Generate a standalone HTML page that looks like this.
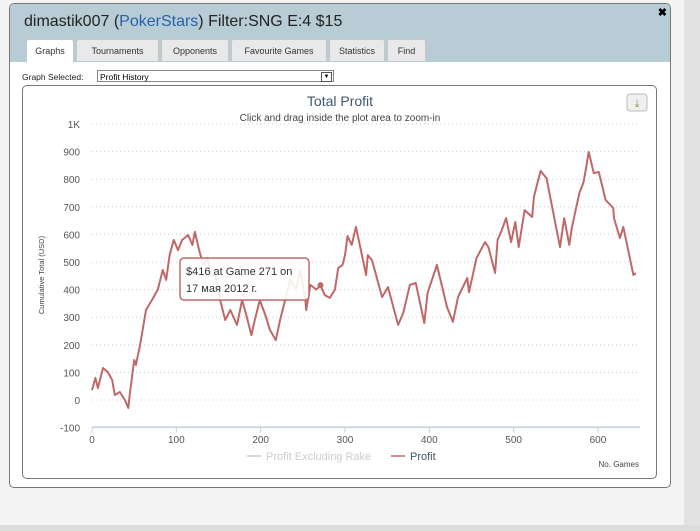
<!DOCTYPE html>
<html><head><meta charset="utf-8"><style>
body{margin:0;width:700px;height:531px;background:#f4f4f4;font-family:"Liberation Sans",sans-serif;position:relative;overflow:hidden}
.strip{position:absolute;left:684px;top:0;width:16px;height:531px;background:#e2e2e2}
.bottomstrip{position:absolute;left:0;top:525px;width:700px;height:6px;background:#dcdcdc}
.dlg{position:absolute;left:9px;top:3px;width:660px;height:483px;background:#fff;border:1px solid #777;border-radius:5px;overflow:hidden}
.hdr{position:absolute;left:0;top:0;width:660px;height:58px;background:#b7ccd5}
.title{position:absolute;left:14px;top:9px;font-size:16px;color:#222}
.title span{color:#2a62a8}
.close{position:absolute;right:3px;top:2px;font-size:11px;font-weight:bold}
.tabs{position:absolute;left:16px;top:35px}
.tab{position:absolute;top:0;height:21px;background:#e9e9e9;border:1px solid #c8c8c8;border-bottom:none;border-radius:3px 3px 0 0;font-size:9px;color:#333;line-height:22px;text-align:center}
.tab.act{background:#fff;height:23px}
.sel-lbl{position:absolute;left:12px;top:68px;font-size:8.5px;color:#222}
.sel{position:absolute;left:87px;top:66px;width:235px;height:12px;border:1px solid #888;font-size:8.5px;line-height:12px;padding-left:2px;box-sizing:border-box;width:237px}
.sel i{position:absolute;right:1px;top:1px;width:9px;height:8px;border:1px solid #555;font-style:normal;font-size:6px;text-align:center;line-height:8px}
.box{position:absolute;left:12px;top:81px;width:633px;height:392px;border:1px solid #777;border-radius:5px}
</style></head><body>
<div class="strip"></div>
<div class="bottomstrip"></div>
<div class="dlg">
 <div class="hdr">
  <div class="title">dimastik007 (<span>PokerStars</span>) Filter:SNG E:4 $15</div>
  <div class="close">✖</div>
  <div class="tabs">
   <div class="tab act" style="left:0;width:46px">Graphs</div>
   <div class="tab" style="left:50px;width:81px">Tournaments</div>
   <div class="tab" style="left:135px;width:66px">Opponents</div>
   <div class="tab" style="left:205px;width:94px">Favourite Games</div>
   <div class="tab" style="left:303px;width:54px">Statistics</div>
   <div class="tab" style="left:361px;width:37px">Find</div>
  </div>
 </div>
 <div class="sel-lbl">Graph Selected:</div>
 <div class="sel">Profit History<i>▼</i></div>
 <div class="box"></div>
</div>
<svg id="chart" width="700" height="531" style="position:absolute;left:0;top:0" font-family="Liberation Sans, sans-serif"></svg>
<script>
const games=[0,4,7,13,19,24,27,33,39,43,45,50,52,57,64,71,78,84,88,92,97,102,107,114,119,122,127,132,137,141,146,152,158,164,172,178,183,189,193,199,206,211,218,223,229,235,242,247,253,254,259,266,271,276,282,288,292,297,300,303,308,313,325,327,332,344,351,363,369,377,384,394,398,409,421,428,434,445,447,456,466,470,478,481,486,491,497,502,506,513,522,524,532,536,539,555,560,566,569,574,578,583,586,589,595,601,609,618,619,626,630,642,645];
const profit=[36,80,43,116,100,72,18,29,0,-29,25,145,127,200,326,362,400,471,435,525,580,543,580,598,562,609,543,489,514,453,453,362,290,326,272,362,308,235,290,362,304,254,217,290,362,435,400,471,362,326,417,400,416,380,370,400,478,489,525,594,562,627,453,525,507,373,409,272,315,417,424,279,388,489,337,283,373,442,391,514,572,554,460,580,616,659,572,645,554,688,663,736,830,815,804,554,659,562,623,696,750,790,844,899,822,826,725,696,659,587,627,453,460];
const yTicks=[-100,0,100,200,300,400,500,600,700,800,900,1000];
const yTickLabels=["-100","0","100","200","300","400","500","600","700","800","900","1K"];
const xTicks=[0,100,200,300,400,500,600];
const NS="http://www.w3.org/2000/svg";
const svg=document.getElementById('chart');
const X=g=>92+g*0.8433;
const Y=v=>400-v*0.276;
function mk(t,a,txt){const e=document.createElementNS(NS,t);for(const k in a)e.setAttribute(k,a[k]);if(txt!==undefined)e.textContent=txt;svg.appendChild(e);return e;}
let e;
e=mk('text',{x:340,y:106,'text-anchor':'middle','font-size':14,fill:'#3e576f'},'Total Profit');


e=mk('text',{x:340,y:121,'text-anchor':'middle','font-size':10,fill:'#444'},'Click and drag inside the plot area to zoom-in');


e=mk('rect',{x:627,y:94,width:20,height:17,rx:3,fill:'#f0f0f0',stroke:'#bbb'});


mk('text',{x:637,y:107,'text-anchor':'middle','font-size':11,fill:'#8a9a6a'},'⤓');
yTicks.forEach((v,i)=>{
 if(v>-100){e=mk('line',{x1:92,x2:640,y1:Y(v),y2:Y(v),stroke:'#ccc','stroke-dasharray':'1,3'});
 
 }
 e=mk('text',{x:80,y:Y(v)+4,'text-anchor':'end','font-size':10,fill:'#555'},yTickLabels[i]);
 
 
});
e=mk('line',{x1:92,x2:640,y1:Y(-100)-0.5,y2:Y(-100)-0.5,stroke:'#c0d0e0','stroke-width':1.5});


xTicks.forEach(g=>{
 mk('line',{x1:X(g),x2:X(g),y1:Y(-100),y2:Y(-100)+5,stroke:'#c0d0e0'});
 e=mk('text',{x:X(g),y:443,'text-anchor':'middle','font-size':10,fill:'#555'},String(g));
 
 
});
e=mk('text',{x:44,y:275,'text-anchor':'middle','font-size':7.5,fill:'#444',transform:'rotate(-90 44 275)'},'Cumulative Total (USD)');


e=mk('text',{x:639,y:467,'text-anchor':'end','font-size':8,fill:'#444'},'No. Games');


e=mk('path',{d:games.map((g,i)=>(i?'L':'M')+X(g).toFixed(1)+','+Y(profit[i]).toFixed(1)).join(''),fill:'none',stroke:'#c06868','stroke-width':2,'stroke-linejoin':'round'});


const hi=games.indexOf(271);
e=mk('circle',{cx:X(games[hi]),cy:Y(profit[hi]),r:3,fill:'#c06868'});


e=mk('rect',{x:180,y:258,width:129,height:42,rx:4,fill:'rgba(255,255,255,0.88)',stroke:'#c06868','stroke-width':1.5});


mk('text',{x:186,y:275,'font-size':11,fill:'#333'},'$'+profit[hi]+' at Game '+games[hi]+' on');
mk('text',{x:186,y:292,'font-size':11,fill:'#333'},'17 мая 2012 г.');
e=mk('line',{x1:247,x2:261,y1:456,y2:456,stroke:'#ccc','stroke-width':1.5});


mk('text',{x:266,y:460,'font-size':11,fill:'#ccc'},'Profit Excluding Rake');
e=mk('line',{x1:391,x2:405,y1:456,y2:456,stroke:'#c06868','stroke-width':1.5});


mk('text',{x:410,y:460,'font-size':11,fill:'#3e576f'},'Profit');
</script>
</body></html>
